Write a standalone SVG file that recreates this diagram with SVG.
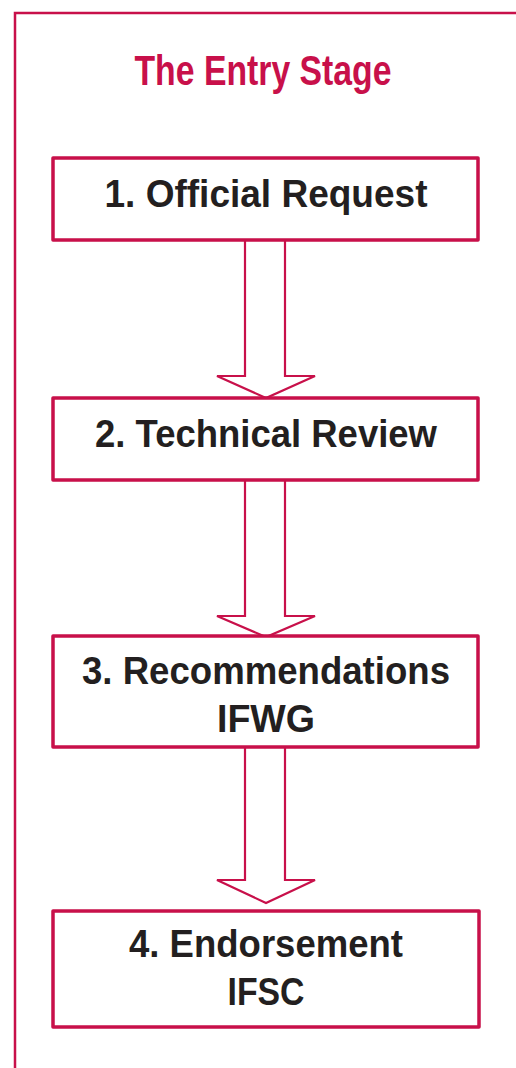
<svg xmlns="http://www.w3.org/2000/svg" width="516" height="1068" viewBox="0 0 516 1068">
<style>
.frame{fill:none;stroke:#C8104A;stroke-width:2.5}
.box{fill:#fff;stroke:#C8104A;stroke-width:3.5;stroke-linejoin:round}
.arrow{fill:#fff;stroke:#C8104A;stroke-width:2.2;stroke-linejoin:miter}
.title{font-family:"Liberation Sans",Arial,sans-serif;font-weight:bold;font-size:42px;fill:#C8104A}
.lbl{font-family:"Liberation Sans",Arial,sans-serif;font-weight:bold;font-size:38px;fill:#231F20}
</style>
<rect width="516" height="1068" fill="#fff"/>
<path class="frame" d="M15,1068 L15,13 L516,13"/>
<text class="title" x="263" y="85" text-anchor="middle" textLength="257" lengthAdjust="spacingAndGlyphs">The Entry Stage</text>
<g id="connectors">
<polygon class="arrow" points="245,240 285,240 285,376 315,376 266,398 217,376 245,376"/>
<polygon class="arrow" points="245,480 285,480 285,616 315,616 266,637 217,616 245,616"/>
<polygon class="arrow" points="245,747 285,747 285,880 315,880 266,903 217,880 245,880"/>
</g>
<g id="node1">
<rect class="box" x="53" y="158" width="425" height="82"/>
<text class="lbl" x="266" y="207" text-anchor="middle" textLength="323" lengthAdjust="spacingAndGlyphs">1. Official Request</text>
</g>
<g id="node2">
<rect class="box" x="53" y="398" width="425" height="82"/>
<text class="lbl" x="266" y="447" text-anchor="middle" textLength="342" lengthAdjust="spacingAndGlyphs">2. Technical Review</text>
</g>
<g id="node3">
<rect class="box" x="53" y="636" width="425" height="111"/>
<text class="lbl" x="266" y="684" text-anchor="middle" textLength="368" lengthAdjust="spacingAndGlyphs">3. Recommendations</text>
<text class="lbl" x="266" y="732" text-anchor="middle" textLength="98" lengthAdjust="spacingAndGlyphs">IFWG</text>
</g>
<g id="node4">
<rect class="box" x="53" y="911" width="426" height="116"/>
<text class="lbl" x="266" y="957" text-anchor="middle" textLength="274" lengthAdjust="spacingAndGlyphs">4. Endorsement</text>
<text class="lbl" x="266" y="1005" text-anchor="middle" textLength="77" lengthAdjust="spacingAndGlyphs">IFSC</text>
</g>
</svg>
